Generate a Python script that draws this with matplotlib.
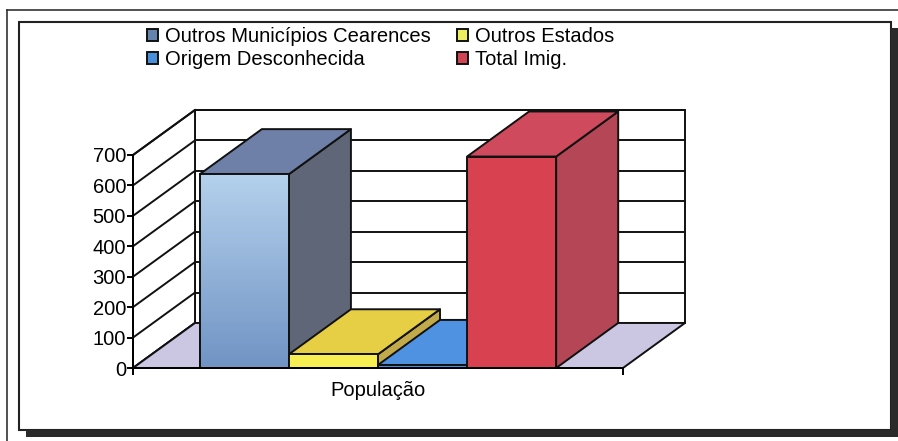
import matplotlib
matplotlib.use('Agg')
from matplotlib import pyplot as plt
from matplotlib.patches import Polygon, Rectangle, Patch
from matplotlib.lines import Line2D
from matplotlib.colors import LinearSegmentedColormap
import numpy as np

plt.rcParams['font.family'] = ['Liberation Sans', 'DejaVu Sans']

# Data
category = 'População'
series = ['Outros Municípios Cearences', 'Outros Estados', 'Origem Desconhecida', 'Total Imig.']
values = [637, 45, 10, 695]
y_ticks = [0, 100, 200, 300, 400, 500, 600, 700]

# face colours (front, top, side) per series
front_cols = ['#8fb2da', '#f6ee52', '#4c8fe0', '#d8414f']
top_cols = ['#6f80a8', '#e6cf45', '#5092e2', '#cf4a5c']
side_cols = ['#5e6678', '#c2aa4a', '#3f7cc4', '#b44656']
legend_cols = ['#6483ad', '#eeee5e', '#4a8fdc', '#d04454']
# first bar's front face fades from light (top) to darker (bottom)
grad_cols = {0: ('#7094c4', '#b4d0ec')}

W, H = 898, 441
fig = plt.figure(figsize=(W / 100, H / 100), dpi=100)

def fx(px):
    return px / W

def fy(py):
    return 1 - py / H

# page frame + chart border with shadow
fig.add_artist(Line2D([fx(7), fx(898)], [fy(10), fy(10)], color='#333333', lw=1.2))
fig.add_artist(Line2D([fx(7), fx(7)], [fy(10), fy(441)], color='#333333', lw=1.2))
fig.add_artist(Rectangle((fx(891), fy(437)), fx(7), fy(28) - fy(437), color='#2a2a2a', lw=0))
fig.add_artist(Rectangle((fx(26), fy(437)), fx(872), fy(430) - fy(437), color='#2a2a2a', lw=0))
fig.add_artist(Rectangle((fx(19), fy(430)), fx(872), fy(22) - fy(430), facecolor='white',
                         edgecolor='#222222', lw=1.5, zorder=0))

# axes = front plane of the 3d box
x_left, x_right = 133, 623
y_zero, y_top = 368, 155
ax = fig.add_axes([fx(x_left), fy(y_zero), fx(x_right - x_left), fy(y_top) - fy(y_zero)])
ax.patch.set_visible(False)
ymax = y_ticks[-1]
bar_w = 1.0
gap = 0.75
n = len(values)
xmax = gap * 2 + n * bar_w

# oblique depth offset in data units
ddx = 0.696
ddy = 148

def poly(pts, fc, z, ec='#111111', lw=1.4):
    p = Polygon(pts, closed=True, facecolor=fc, edgecolor=ec, lw=lw,
                clip_on=False, zorder=z, joinstyle='round')
    ax.add_patch(p)
    return p

# back wall
poly([(ddx, ddy), (xmax + ddx, ddy), (xmax + ddx, ymax + ddy), (ddx, ymax + ddy)], 'white', 1)
for v in y_ticks:
    ax.plot([ddx, xmax + ddx], [v + ddy, v + ddy], color='#111111', lw=1.4, clip_on=False, zorder=1.1)
# side wall
poly([(0, 0), (ddx, ddy), (ddx, ymax + ddy), (0, ymax)], 'white', 1.2)
for v in y_ticks:
    ax.plot([0, ddx], [v, v + ddy], color='#111111', lw=1.4, clip_on=False, zorder=1.3)
# floor
poly([(0, 0), (xmax, 0), (xmax + ddx, ddy), (ddx, ddy)], '#cbc6e2', 1.4)

# bars, left to right
for i, v in enumerate(values):
    x0 = gap + i * bar_w
    x1 = x0 + bar_w
    z = 2 + i * 0.1
    poly([(x1, 0), (x1 + ddx, ddy), (x1 + ddx, v + ddy), (x1, v)], side_cols[i], z)
    poly([(x0, v), (x1, v), (x1 + ddx, v + ddy), (x0 + ddx, v + ddy)], top_cols[i], z + 0.01)
    face = poly([(x0, 0), (x1, 0), (x1, v), (x0, v)], front_cols[i], z + 0.02)
    if i in grad_cols:
        cmap = LinearSegmentedColormap.from_list('g%d' % i, grad_cols[i])
        im = ax.imshow(np.linspace(0, 1, 64).reshape(-1, 1), cmap=cmap, origin='lower',
                       extent=(x0, x1, 0, v), aspect='auto', zorder=z + 0.03)
        im.set_clip_path(face)
        poly([(x0, 0), (x1, 0), (x1, v), (x0, v)], 'none', z + 0.04)

ax.set_xlim(0, xmax)
ax.set_ylim(0, ymax)

# axes styling
for s in ['top', 'right']:
    ax.spines[s].set_visible(False)
ax.spines['left'].set_linewidth(1.4)
ax.spines['bottom'].set_linewidth(1.4)
ax.spines['left'].set_zorder(3)
ax.spines['bottom'].set_zorder(3)
ax.set_yticks(y_ticks)
ax.set_yticklabels([str(t) for t in y_ticks], fontsize=14.5)
ax.tick_params(axis='y', direction='out', length=4, width=1.4, pad=1)
ax.set_xticks([0, xmax])
ax.set_xticklabels(['', ''])
ax.tick_params(axis='x', direction='out', length=5, width=1.4)
ax.set_xticks([xmax / 2], minor=True)
ax.set_xticklabels([category], minor=True, fontsize=14.5)
ax.tick_params(axis='x', which='minor', length=0, pad=9)

# legend (filled column-wise, so reorder to get the two rows right)
order = [0, 2, 1, 3]
handles = [Patch(facecolor=legend_cols[k], edgecolor='#111111', lw=1.4, label=series[k]) for k in order]
fig.legend(handles=handles, loc='upper left', bbox_to_anchor=(fx(147), fy(27)), ncol=2,
           frameon=False, fontsize=14.5, borderpad=0, borderaxespad=0,
           handlelength=0.55, handleheight=0.55, handletextpad=0.35,
           labelspacing=0.2, columnspacing=1.3)

fig.savefig('out.png', dpi=100)
